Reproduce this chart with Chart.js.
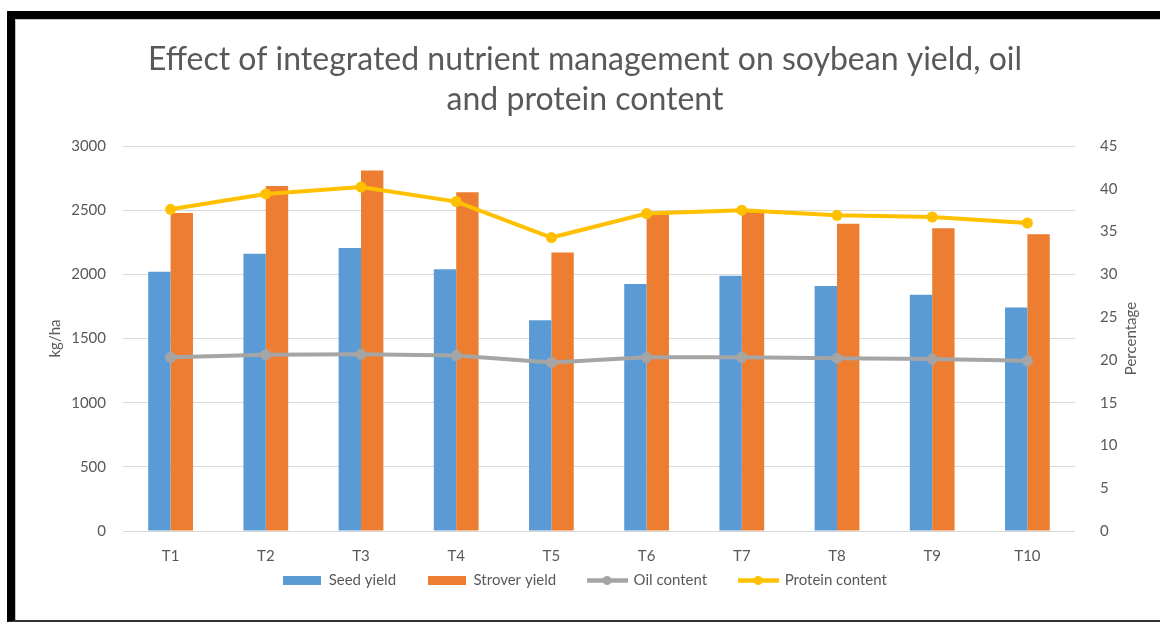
<!DOCTYPE html>
<html>
<head>
<meta charset="utf-8">
<script src="https://cdn.jsdelivr.net/npm/chart.js@4.4.1/dist/chart.umd.min.js"></script>
<style>
html, body { margin: 0; padding: 0; background: #fff; }
#wrap { position: relative; width: 1160px; height: 624px; overflow: hidden; }
#frame {
    position: absolute; left: 7px; top: 11px; width: 1170px; height: 611px;
    box-sizing: border-box; border-top: 8px solid #000; border-left: 8px solid #000;
    border-bottom: 2px solid #333; box-shadow: inset 1px 1px 0 #c4c4c4; pointer-events: none;
}
canvas { position: absolute; left: 0; top: 0; }
</style>
</head>
<body>
<div id="wrap">
    <canvas id="grafico"></canvas>
    <div id="frame"></div>
</div>
<script>
const categories = ['T1', 'T2', 'T3', 'T4', 'T5', 'T6', 'T7', 'T8', 'T9', 'T10']
const seedYield = [2020, 2160, 2205, 2040, 1642, 1925, 1988, 1910, 1840, 1742]
const stroverYield = [2477, 2688, 2810, 2640, 2170, 2480, 2490, 2395, 2360, 2312]
const oilContent = [20.3, 20.6, 20.65, 20.5, 19.7, 20.3, 20.3, 20.2, 20.1, 19.9]
const proteinContent = [37.6, 39.4, 40.2, 38.5, 34.3, 37.1, 37.5, 36.9, 36.7, 36.0]
const leftTicks = [0, 500, 1000, 1500, 2000, 2500, 3000]
const rightTicks = [0, 5, 10, 15, 20, 25, 30, 35, 40, 45]

const textColor = '#595959'
const fontFamily = 'Lato, "Open Sans", sans-serif'

// little legend markers, like Excel draws them
function rectMarker(color) {
    const c = document.createElement('canvas')
    c.width = 38
    c.height = 9
    const g = c.getContext('2d')
    g.fillStyle = color
    g.fillRect(0, 0, 38, 9)
    return c
}
function lineMarker(color) {
    const c = document.createElement('canvas')
    c.width = 41
    c.height = 11
    const g = c.getContext('2d')
    g.strokeStyle = color
    g.lineWidth = 4.5
    g.beginPath()
    g.moveTo(0, 5.5)
    g.lineTo(41, 5.5)
    g.stroke()
    g.fillStyle = color
    g.beginPath()
    g.arc(20.5, 5.5, 4.5, 0, Math.PI * 2)
    g.fill()
    return c
}

// right axis title reads bottom-to-top in the original
const rightTitle = {
    id: 'rightTitle',
    afterDraw(chart) {
        const {ctx, chartArea} = chart
        ctx.save()
        ctx.translate(1131, (chartArea.top + chartArea.bottom) / 2)
        ctx.rotate(-Math.PI / 2)
        ctx.fillStyle = textColor
        ctx.font = '15px ' + fontFamily
        ctx.textAlign = 'center'
        ctx.textBaseline = 'middle'
        ctx.fillText('Percentage', 0, 0)
        ctx.restore()
    }
}

// pull the legend up closer to the axis labels
const legendNudge = {
    id: 'legendNudge',
    afterLayout(chart) {
        const lg = chart.legend
        const h = lg.bottom - lg.top
        lg.top = 541
        lg.bottom = 541 + h
    }
}

let ctx = document.getElementById('grafico').getContext('2d')

let grafico = new Chart(ctx, {
    data: {
        labels: categories,
        datasets: [
            {
                type: 'bar',
                label: 'Seed yield',
                data: seedYield,
                backgroundColor: '#5B9BD5',
                yAxisID: 'y',
                order: 2,
                marker: rectMarker('#5B9BD5')
            },
            {
                type: 'bar',
                label: 'Strover yield',
                data: stroverYield,
                backgroundColor: '#ED7D31',
                yAxisID: 'y',
                order: 2,
                marker: rectMarker('#ED7D31')
            },
            {
                type: 'line',
                label: 'Oil content',
                data: oilContent,
                borderColor: '#A5A5A5',
                backgroundColor: '#A5A5A5',
                borderWidth: 4,
                pointRadius: 5.5,
                pointBorderWidth: 0,
                tension: 0,
                yAxisID: 'y1',
                order: 1,
                marker: lineMarker('#A5A5A5')
            },
            {
                type: 'line',
                label: 'Protein content',
                data: proteinContent,
                borderColor: '#FFC000',
                backgroundColor: '#FFC000',
                borderWidth: 4,
                pointRadius: 5.5,
                pointBorderWidth: 0,
                tension: 0,
                yAxisID: 'y1',
                order: 0,
                marker: lineMarker('#FFC000')
            }
        ]
    },
    plugins: [rightTitle, legendNudge],
    options: {
        responsive: true,
        maintainAspectRatio: false,
        animation: false,
        categoryPercentage: 0.47,
        barPercentage: 1,
        layout: {
            padding: {left: 10, right: 0, top: 20, bottom: 3}
        },
        scales: {
            x: {
                grid: {display: false},
                border: {display: false},
                ticks: {
                    color: textColor,
                    padding: 8,
                    font: {family: fontFamily, size: 15}
                },
                afterFit(scale) { scale.height = 33 }
            },
            y: {
                position: 'left',
                min: 0,
                max: 3000,
                afterBuildTicks(scale) { scale.ticks = leftTicks.map(v => ({value: v})) },
                grid: {color: '#D9D9D9', drawTicks: false},
                border: {display: false},
                ticks: {
                    color: textColor,
                    padding: 17,
                    font: {family: fontFamily, size: 15},
                    callback: v => String(v)
                },
                title: {
                    display: true,
                    text: 'kg/ha',
                    color: textColor,
                    padding: {top: 36, bottom: 0},
                    font: {family: fontFamily, size: 15}
                },
                afterFit(scale) { scale.width = 113 }
            },
            y1: {
                position: 'right',
                min: 0,
                max: 45,
                afterBuildTicks(scale) { scale.ticks = rightTicks.map(v => ({value: v})) },
                grid: {display: false},
                border: {display: false},
                ticks: {
                    color: textColor,
                    padding: 17,
                    font: {family: fontFamily, size: 15},
                    callback: v => String(v)
                },
                afterFit(scale) { scale.width = 85 }
            }
        },
        plugins: {
            title: {
                display: true,
                text: ['Effect of integrated nutrient management on soybean yield, oil', 'and protein content'],
                color: textColor,
                padding: {top: 20, bottom: 26},
                font: {family: fontFamily, size: 32, weight: 'normal', lineHeight: '40px'}
            },
            legend: {
                position: 'bottom',
                labels: {
                    usePointStyle: true,
                    pointStyleWidth: 38,
                    padding: 32,
                    color: textColor,
                    font: {family: fontFamily, size: 15},
                    generateLabels(chart) {
                        return chart.data.datasets.map((ds, i) => ({
                            text: ds.label,
                            pointStyle: ds.marker,
                            fontColor: textColor,
                            lineWidth: 0,
                            hidden: false,
                            datasetIndex: i
                        }))
                    }
                }
            },
            tooltip: {enabled: false}
        }
    }
})
</script>
</body>
</html>
